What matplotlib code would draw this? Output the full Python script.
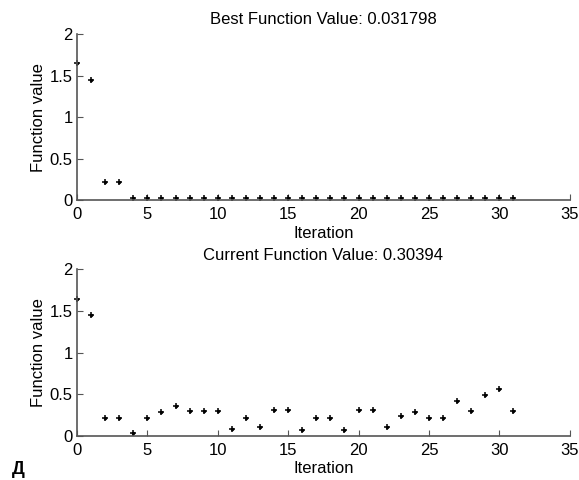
import matplotlib
matplotlib.use("Agg")
import matplotlib.pyplot as plt
import numpy as np

iterations = list(range(32))
best_values = [1.65, 1.45, 0.22, 0.22] + [0.031798] * 28
current_values = [1.64, 1.45, 0.21, 0.21, 0.03, 0.21, 0.29, 0.36, 0.30, 0.30,
                  0.30, 0.08, 0.21, 0.11, 0.31, 0.31, 0.076, 0.21, 0.21, 0.076,
                  0.31, 0.31, 0.11, 0.24, 0.29, 0.21, 0.21, 0.42, 0.30, 0.49,
                  0.57, 0.30394]
titles = ["Best Function Value: 0.031798", "Current Function Value: 0.30394"]
xticks = [0, 5, 10, 15, 20, 25, 30, 35]
yticks = [0, 0.5, 1, 1.5, 2]
ytick_labels = ["0", "0.5", "1", "1.5", "2"]

plt.rcParams['font.family'] = ['Liberation Sans', 'DejaVu Sans']
fig = plt.figure(figsize=(5.79, 4.8), dpi=100)

rects = [[0.133, 0.583, 0.851, 0.346], [0.133, 0.0917, 0.851, 0.347]]
for rect, vals, title in zip(rects, [best_values, current_values], titles):
    ax = fig.add_axes(rect)
    ax.plot(iterations, vals, linestyle='none', marker='+', markersize=4,
            color='black', markeredgewidth=1.1, clip_on=False)
    ax.plot(iterations, vals, linestyle='none', marker='o', markersize=2.5,
            color='black', markeredgewidth=0, clip_on=False)
    ax.set_xlim(0, 35)
    ax.set_ylim(0, 2)
    ax.set_xticks(xticks)
    ax.set_yticks(yticks)
    ax.set_yticklabels(ytick_labels)
    ax.spines['top'].set_visible(False)
    ax.spines['right'].set_visible(False)
    for s in ['left', 'bottom']:
        ax.spines[s].set_color('#555555')
        ax.spines[s].set_linewidth(1.2)
    ax.tick_params(direction='in', length=4, width=0.8, color='#555555',
                   labelsize=12, pad=3)
    ax.tick_params(axis='x', pad=5)
    ax.set_title(title, fontsize=12, pad=7)
    ax.set_xlabel("Iteration", fontsize=12, labelpad=2.5)
    ax.set_ylabel("Function value", fontsize=12, labelpad=3)

fig.text(0.02, 0.005, "Д", fontsize=13, fontweight='bold', ha='left', va='bottom')
fig.savefig("out.png", dpi=100)
